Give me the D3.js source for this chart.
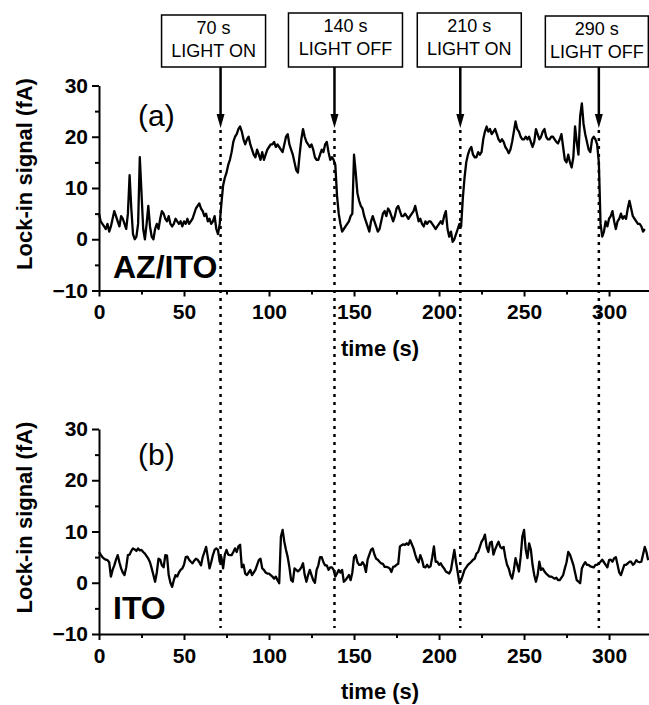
<!DOCTYPE html>
<html>
<head>
<meta charset="utf-8">
<script src="https://cdn.jsdelivr.net/npm/d3@7"></script>
<style>
  body { margin: 0; background: #fff; }
  text { font-family: "Liberation Sans", Arial, sans-serif; }
</style>
</head>
<body>
<script>
// lock-in signal, one sample per second, panel (a) AZ/ITO
const sigA = [
  5, 3.5, 3, 2.5, 2, 3, 1.5, 2.5, 4, 5.5,
  4.5, 3.5, 2.5, 4.5, 4, 3, 2, 5, 12.5, 6,
  1, 0, 0.5, 3, 16, 9, 2, 0, 3, 6.5,
  2.5, 0.5, 0, 2, 3, 2, 4, 5.5, 5, 4,
  3.5, 4.5, 3, 2.5, 3, 4, 3.5, 3, 3.5, 2.5,
  3.5, 3, 4, 3, 3.5, 4, 5, 6, 6.5, 7,
  6, 5.5, 4.5, 5, 3.5, 4, 3, 3.5, 4.5, 2,
  1, 3, 7, 10.5, 12, 13, 14.5, 15.5, 17, 19,
  20, 20.5, 21.5, 22, 21, 19.5, 18.5, 19.5, 20, 18.5,
  17.5, 16.5, 16, 17.5, 16.5, 15.5, 17, 15.5, 16.5, 17.5,
  18, 18.5, 18.5, 19, 18, 18.5, 18, 17.5, 17, 18.5,
  20, 20.5, 18.5, 17.5, 16.5, 15, 13.5, 13, 16.5, 19.5,
  21.5, 20, 19, 18.5, 18, 18.5, 17.5, 16, 15.5, 15.5,
  16.5, 17.5, 17, 18.5, 19, 17, 15.5, 16, 15.5, 14.5,
  8.5, 5, 3, 1.5, 2, 2.5, 3, 3.5, 4.5, 5,
  16.5, 13, 9, 7.5, 6.5, 6, 4.5, 3.5, 2.5, 1.5,
  3.5, 4.5, 3.5, 2.5, 1.5, 2, 3.5, 5, 5.5, 4.5,
  6, 5.5, 4.5, 3.5, 4.5, 6, 6.5, 5.5, 4.5, 4.5,
  5, 4.5, 4, 4.5, 5, 5.5, 6.5, 5, 3.5, 4,
  3, 2.5, 3.5, 3, 3.5, 3.5, 3, 2.5, 2, 2.5,
  3, 3.5, 3, 4.5, 5.5, 2, 0.5, 1.5, -0.5, 0,
  1, 2, 3, 2.5, 8, 12, 15, 16.5, 17.5, 18,
  16.5, 16, 16, 17, 16.5, 17, 19.5, 21, 22, 21,
  21.5, 20.5, 21, 21.5, 20.5, 19.5, 19, 19.5, 19, 18,
  17.5, 16.8, 17.5, 19, 21, 23, 21.5, 21, 20, 19.5,
  19.5, 20, 19.5, 20, 19, 18, 19, 21.5, 20.5, 19.5,
  20, 21, 21.5, 20, 19.5, 19.5, 20, 20, 19.5, 19,
  18.7, 19.5, 20.5, 18, 15.5, 15, 16.5, 15, 14, 16,
  22, 19, 16.5, 24, 26.5, 22.5, 20.5, 19, 17.5, 17,
  19.5, 20, 19.5, 18.5, 15, 3, 0.5, 1.5, 3.5, 2.5,
  4, 4.5, 5.5, 3.5, 2, 3.5, 4, 5, 4, 4.5,
  4, 6, 7.5, 6, 4.5, 4, 3.5, 3, 3, 2.5,
  1.5, 2
];

// panel (b) ITO
const sigB = [
  6, 5.5, 5, 4.7, 4.5, 4.4, 4, 1.2, 2.5, 3.4,
  4.5, 5.4, 4, 2.8, 2, 1.5, 3, 5.4, 5.5, 6.2,
  6.7, 6.5, 6.2, 6.7, 6.3, 6.4, 6, 5.7, 5.2, 4.7,
  4, 2.8, 1.5, 0.2, 2, 4.7, 4.5, 3.4, 3, 5.4,
  5.3, 1.5, 0, -0.8, 0.5, 1.5, 1.2, 2, 2.5, 2.8,
  3.5, 5, 5.1, 4.5, 4.1, 3.8, 4.3, 4.7, 4.5, 4,
  3.4, 5, 6, 7, 5, 2.8, 4, 5.4, 6.4, 6.7,
  6.4, 4.1, 5, 2.8, 5.5, 6.4, 5.5, 5.4, 5.4, 6,
  6.7, 6, 7.1, 7.4, 3, 3.5, 1.8, 1.5, 2, 2.5,
  1.5, 2, 2.5, 3.5, 4.4, 4.7, 2.8, 2.5, 2, 1.8,
  1.8, 1.5, 1.2, 0.8, 1.2, 0.5, -0.1, 9, 10.3, 8,
  6.4, 5, 3, 0.5, 0.2, 2.8, 2.5, 2.2, 2.5, 3,
  3.8, 1.5, 0.2, 1.5, 2.5, 1.5, 0.5, 0, 2.5, 3.4,
  5, 5, 4, 3.4, 3.4, 2.5, 3, 3, 2.5, 1.2,
  1.8, 2.5, 2, 2.5, 0.2, 0.5, 1, 1.5, 0.5, 2,
  5, 5.4, 4, 3.5, 3.5, 4, 3.5, 2.1, 4.5, 5.5,
  6.4, 6.7, 5.5, 4.7, 4.5, 4.1, 3.8, 3.7, 3.1, 3.1,
  3, 2.8, 2.1, 3.1, 3.2, 3.5, 3.7, 7.1, 7.3, 7.5,
  7.4, 7.7, 7.4, 8.3, 7.5, 6.7, 5.5, 4.5, 4, 5.4,
  4.5, 3.1, 3, 3.5, 3, 3.2, 5, 7.1, 4.1, 4.1,
  3.5, 3.8, 3.2, 2.8, 2.2, 2, 1.8, 2.5, 4.5, 6.4,
  4, 2, -0.1, 0.5, 1.5, 2.5, 3, 3.5, 3.8, 4.1,
  4.5, 4.7, 5.7, 6, 7, 8, 8.5, 9.4, 7, 6,
  7.8, 8, 5.5, 6.5, 7.3, 8, 7, 6.7, 7, 5,
  3.5, 2.8, 1.5, 0.8, 2.5, 4.8, 3.5, 2.2, 5, 9,
  10.3, 6.5, 4.8, 7.7, 6.5, 3.5, 1.5, 0.2, 1.5, 4.1,
  2.5, 2.8, 2.2, 1.8, 1.5, 1.2, 1.2, 1, 0.8, 1,
  0.5, 0.5, 1, 1.5, 2.8, 4, 6, 5.5, 4.5, 3.5,
  2, 0.5, 0.2, -0.1, 2.8, 3.5, 4, 3.5, 3.5, 3.2,
  3.1, 3, 3.5, 3.5, 3.8, 4.1, 4.5, 4, 3.5, 3,
  4.4, 4.5, 4.1, 4.8, 5, 3.5, 2, 1.5, 2.5, 3.5,
  3.5, 3.8, 4.1, 4.1, 3.5, 3.8, 4.4, 4.1, 4, 4.1,
  5.5, 7, 6, 4.4
];

// light switching events
const markT = [71.5, 138.5, 212.5, 294];
const markTime = ["70 s", "140 s", "210 s", "290 s"];
const markState = ["LIGHT ON", "LIGHT OFF", "LIGHT ON", "LIGHT OFF"];

const xTicks = [0, 50, 100, 150, 200, 250, 300];
const xMinor = [25, 75, 125, 175, 225, 275];
const yTicks = [-10, 0, 10, 20, 30];
const yMinor = [-5, 5, 15, 25];

const W = 649, H = 705;
const svg = d3.select("body").append("svg")
    .attr("width", W)
    .attr("height", H);

const x = d3.scaleLinear().domain([0, 323.5]).range([99, 649]);

// two panels, same layout
const panels = [
    { sig: sigA, top: 85.5, bot: 290.5, tag: "(a)", tagY: 126, name: "AZ/ITO", nameY: 278 },
    { sig: sigB, top: 429, bot: 634, tag: "(b)", tagY: 465, name: "ITO", nameY: 619 }
];

panels.forEach(p => {
    const y = d3.scaleLinear().domain([-10, 30]).range([p.bot, p.top]);
    const g = svg.append("g");

    // minor ticks first
    g.append("g")
        .attr("transform", `translate(0,${p.bot})`)
        .call(d3.axisBottom(x).tickValues(xMinor).tickSize(4).tickFormat(""))
        .call(a => a.select(".domain").remove());
    g.append("g")
        .attr("transform", `translate(${x(0)},0)`)
        .call(d3.axisLeft(y).tickValues(yMinor).tickSize(4).tickFormat(""))
        .call(a => a.select(".domain").remove());

    const xa = g.append("g")
        .attr("transform", `translate(0,${p.bot})`)
        .call(d3.axisBottom(x).tickValues(xTicks).tickSize(6).tickSizeOuter(0).tickPadding(8).tickFormat(d3.format("d")));
    const ya = g.append("g")
        .attr("transform", `translate(${x(0)},0)`)
        .call(d3.axisLeft(y).tickValues(yTicks).tickSize(7).tickSizeOuter(0).tickPadding(4));

    [xa, ya].forEach(a => {
        a.selectAll("text")
            .attr("font-size", 21)
            .attr("font-weight", "bold")
            .attr("fill", "#000")
            .style("font-family", '"Liberation Sans", Arial, sans-serif');
    });
    g.selectAll(".domain, .tick line")
        .attr("stroke", "#000")
        .attr("stroke-width", 2);

    // y label
    g.append("text")
        .attr("transform", `translate(32,${(p.top + p.bot) / 2 - 14}) rotate(-90)`)
        .attr("text-anchor", "middle")
        .attr("font-size", 22)
        .attr("font-weight", "bold")
        .text("Lock-in signal (fA)");

    // x label
    g.append("text")
        .attr("x", 380)
        .attr("y", p.bot + 65)
        .attr("text-anchor", "middle")
        .attr("font-size", 22)
        .attr("font-weight", "bold")
        .text("time (s)");

    g.append("text")
        .attr("x", 138)
        .attr("y", p.tagY)
        .attr("font-size", 30)
        .text(p.tag);

    g.append("text")
        .attr("x", 113)
        .attr("y", p.nameY)
        .attr("font-size", 32)
        .attr("font-weight", "bold")
        .text(p.name);

    const line = d3.line()
        .x((d, i) => x(i))
        .y(d => y(d));

    g.append("path")
        .datum(p.sig)
        .attr("fill", "none")
        .attr("stroke", "#000")
        .attr("stroke-width", 2.3)
        .attr("stroke-linejoin", "round")
        .attr("d", line);
});

// dotted markers running through both panels
svg.selectAll("line.mark")
    .data(markT)
    .join("line")
    .attr("class", "mark")
    .attr("x1", d => x(d))
    .attr("x2", d => x(d))
    .attr("y1", 130)
    .attr("y2", 628)
    .attr("stroke", "#000")
    .attr("stroke-width", 2.5)
    .attr("stroke-dasharray", "3,5");

// annotation boxes with arrows
const boxDx = [-7, 11, 9, -2];
const boxW = [104, 114, 104, 103];
const boxTop = [15, 13, 13, 16];
const boxBot = 67;
const tipY = 128;

markT.forEach((t, i) => {
    const cxBox = x(t) + boxDx[i];
    const g = svg.append("g");
    g.append("rect")
        .attr("x", cxBox - boxW[i] / 2)
        .attr("y", boxTop[i])
        .attr("width", boxW[i])
        .attr("height", boxBot - boxTop[i])
        .attr("fill", "#fff")
        .attr("stroke", "#000")
        .attr("stroke-width", 1.5);
    g.append("text")
        .attr("x", cxBox)
        .attr("y", boxTop[i] + 19)
        .attr("text-anchor", "middle")
        .attr("font-size", 18)
        .text(markTime[i]);
    g.append("text")
        .attr("x", cxBox)
        .attr("y", boxTop[i] + 42)
        .attr("text-anchor", "middle")
        .attr("font-size", 18)
        .text(markState[i]);

    const ax = x(t);
    g.append("line")
        .attr("x1", ax).attr("x2", ax)
        .attr("y1", boxBot).attr("y2", tipY - 10)
        .attr("stroke", "#000")
        .attr("stroke-width", 2.5);
    g.append("path")
        .attr("d", `M${ax - 4},${tipY - 14}L${ax + 4},${tipY - 14}L${ax},${tipY}Z`)
        .attr("fill", "#000");
});
</script>
</body>
</html>
